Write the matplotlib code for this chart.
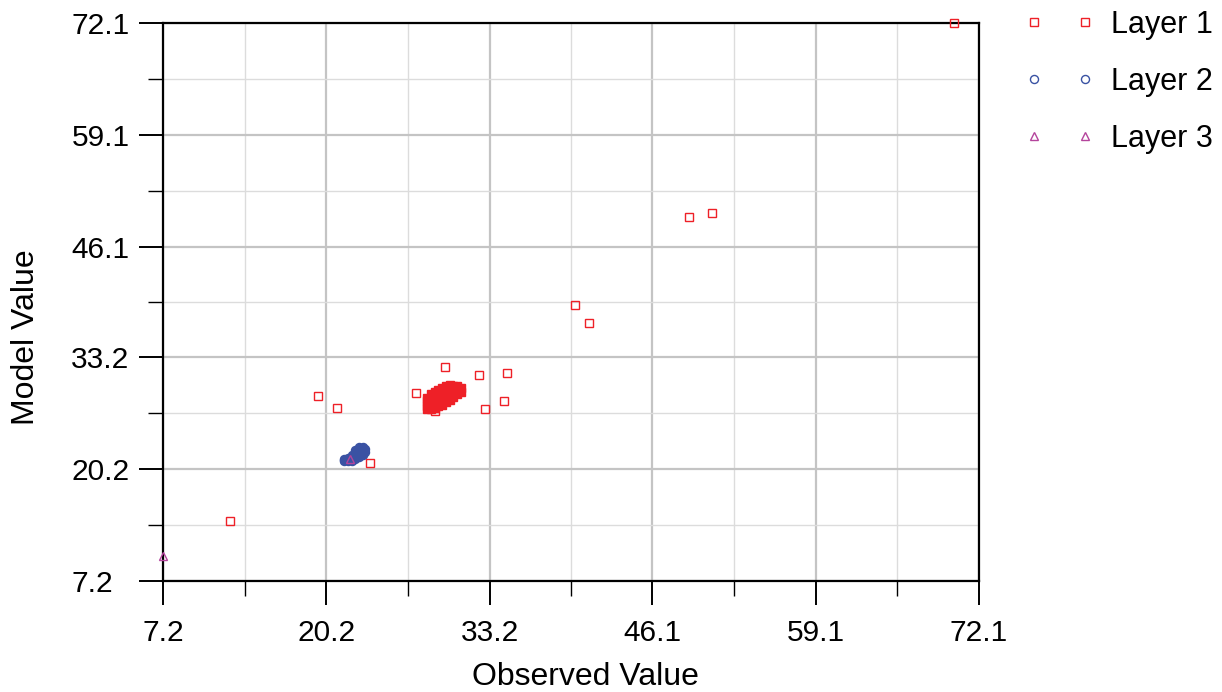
import numpy as np
import matplotlib
matplotlib.use('Agg')
import matplotlib.pyplot as plt

plt.rcParams['font.family'] = ['Liberation Sans', 'DejaVu Sans']

TICKS = [7.2, 20.2, 33.2, 46.1, 59.1, 72.1]
TICK_LABELS = ['7.2', '20.2', '33.2', '46.1', '59.1', '72.1']

# Layer 1: scattered points
l1_x = [70.1, 12.5, 19.5, 21.0, 23.7, 27.3, 29.6, 28.8, 32.3, 32.8, 34.3, 34.6,
		40.0, 41.1, 49.0, 50.9]
l1_y = [72.1, 14.2, 28.7, 27.3, 20.9, 29.1, 32.1, 27.0, 31.2, 27.2, 28.1, 31.4,
		39.3, 37.2, 49.5, 50.0]

# Layer 1: dense cluster
l1c_x = [28.2, 28.2, 28.2, 28.2,
		 28.5, 28.5, 28.5, 28.5,
		 28.8, 28.8, 28.8, 28.8, 28.8,
		 29.1, 29.1, 29.1, 29.1, 29.1,
		 29.4, 29.4, 29.4, 29.4, 29.4,
		 29.7, 29.7, 29.7, 29.7,
		 30.0, 30.0, 30.0, 30.0,
		 30.3, 30.3, 30.3,
		 30.6, 30.6, 30.6,
		 30.9, 30.9]
l1c_y = [27.2, 27.6, 28.1, 28.5,
		 27.2, 27.7, 28.3, 28.9,
		 27.3, 27.8, 28.3, 28.8, 29.2,
		 27.5, 28.0, 28.5, 29.0, 29.4,
		 27.7, 28.2, 28.7, 29.2, 29.7,
		 28.0, 28.6, 29.2, 29.9,
		 28.3, 28.9, 29.5, 30.0,
		 28.6, 29.2, 29.9,
		 28.9, 29.4, 29.9,
		 29.2, 29.7]

# Layer 2: dense cluster
l2_x = [21.6, 21.6, 21.6,
		21.9, 21.9, 21.9,
		22.2, 22.2, 22.2, 22.2,
		22.5, 22.5, 22.5, 22.5, 22.5,
		22.8, 22.8, 22.8, 22.8, 22.8,
		23.1, 23.1, 23.1, 23.1,
		23.25, 23.25]
l2_y = [21.1, 21.25, 21.4,
		21.1, 21.3, 21.5,
		21.2, 21.4, 21.6, 21.8,
		21.4, 21.65, 21.9, 22.15, 22.4,
		21.6, 21.9, 22.2, 22.5, 22.8,
		21.8, 22.15, 22.5, 22.8,
		22.2, 22.6]

# Layer 3
l3_x = [7.2, 22.05]
l3_y = [10.1, 21.4]

RED = '#ee2027'
BLUE = '#3a52a3'
PURPLE = '#b4449c'

fig = plt.figure(figsize=(12.22, 6.92), dpi=100)
ax = fig.add_axes([0.1334, 0.1604, 0.6677, 0.8064])

ms = 5.8
# overlapping hollow markers of the dense clusters read as a solid blob
ax.plot(l1c_x, l1c_y, ls='none', marker='s', ms=ms, mfc=RED,
		mec=RED, mew=1.0, zorder=3)
ax.plot(l2_x, l2_y, ls='none', marker='o', ms=ms, mfc=BLUE,
		mec=BLUE, mew=1.0, zorder=3)
ax.plot(l1_x, l1_y, ls='none', marker='s', ms=ms, mfc='none',
		mec=RED, mew=1.0, label='Layer 1', clip_on=False, zorder=3)
ax.plot([], [], ls='none', marker='o', ms=ms, mfc='none',
		mec=BLUE, mew=1.0, label='Layer 2')
ax.plot(l3_x, l3_y, ls='none', marker='^', ms=ms, mfc='none',
		mec=PURPLE, mew=1.0, label='Layer 3', clip_on=False, zorder=4)

ax.set_xlim(TICKS[0], TICKS[-1])
ax.set_ylim(TICKS[0], TICKS[-1])
ax.set_xticks(TICKS)
ax.set_xticklabels(TICK_LABELS)
ax.set_yticks(TICKS)
ax.set_yticklabels(TICK_LABELS)
minor = [(a + b) / 2 for a, b in zip(TICKS[:-1], TICKS[1:])]
ax.set_xticks(minor, minor=True)
ax.set_yticks(minor, minor=True)

ax.tick_params(which='major', length=17, width=1.4, labelsize=21.5, direction='out')
ax.tick_params(axis='x', which='major', pad=10)
ax.tick_params(axis='y', which='major', pad=49)
ax.tick_params(which='minor', length=11, width=1.0, direction='out')
for lab in ax.get_yticklabels():
	lab.set_ha('left')

ax.grid(which='major', color='#c4c4c4', lw=1.6)
ax.grid(which='minor', color='#dcdcdc', lw=1.0)
ax.set_axisbelow(True)
for s in ax.spines.values():
	s.set_linewidth(1.6)
	s.set_color('black')

ax.set_xlabel('Observed Value', fontsize=23)
ax.set_ylabel('Model Value', fontsize=23)
ax.xaxis.set_label_coords(0.518, -0.172)
ax.xaxis.label.set_va('center')
ax.yaxis.set_label_coords(-0.168, 0.437)
ax.yaxis.label.set_va('center')

ax.legend(loc='upper left', bbox_to_anchor=(0.8286, 1.003), bbox_transform=fig.transFigure,
		  frameon=False, numpoints=2, fontsize=22, handlelength=2.27,
		  handletextpad=0.55, labelspacing=0.876, borderaxespad=0)

fig.savefig('out.png', dpi=100)
